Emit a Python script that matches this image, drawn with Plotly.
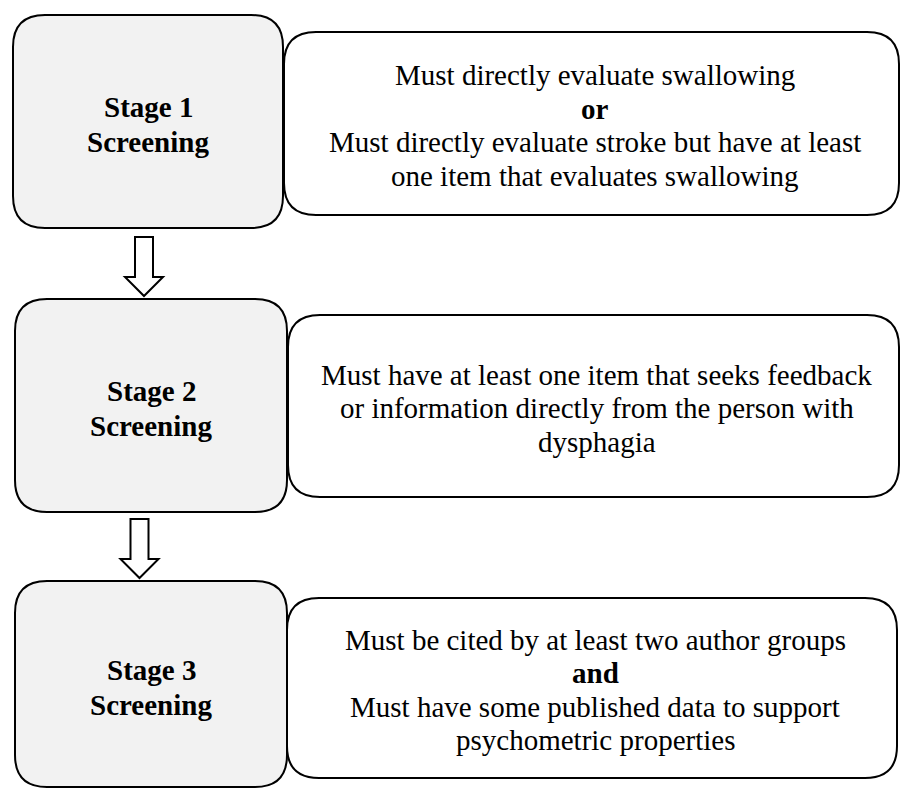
import plotly.graph_objects as go

W, H = 901, 789

# text content
stage_names = ["Stage 1", "Stage 2", "Stage 3"]
stage_sub = "Screening"
criteria = [
    ["Must directly evaluate swallowing",
     "<b>or</b>",
     "Must directly evaluate stroke but have at least",
     "one item that evaluates swallowing"],
    ["Must have at least one item that seeks feedback",
     "or information directly from the person with",
     "dysphagia"],
    ["Must be cited by at least two author groups",
     "<b>and</b>",
     "Must have some published data to support",
     "psychometric properties"],
]

# geometry (pixel space, y grows downward)
stage_boxes = [(13, 15, 283, 228), (15, 299, 287, 512), (15, 581, 287, 787)]
crit_boxes = [(284, 32, 899, 215), (288, 315, 899, 497), (287, 598, 897, 778)]
arrows = [(144, 237, 296), (139.5, 519, 578)]

SERIF = '"Times New Roman", "Liberation Serif", "DejaVu Serif", serif'
GREY = "#f2f2f2"


def rounded_rect(x0, y0, x1, y1, r=32):
    return (f"M {x0+r},{y0} L {x1-r},{y0} Q {x1},{y0} {x1},{y0+r} "
            f"L {x1},{y1-r} Q {x1},{y1} {x1-r},{y1} L {x0+r},{y1} "
            f"Q {x0},{y1} {x0},{y1-r} L {x0},{y0+r} Q {x0},{y0} {x0+r},{y0} Z")


def block_arrow(cx, top, tip, shaft=9, head=19, head_len=19):
    hy = tip - head_len
    return (f"M {cx-shaft},{top} L {cx+shaft},{top} L {cx+shaft},{hy} "
            f"L {cx+head},{hy} L {cx},{tip} L {cx-head},{hy} L {cx-shaft},{hy} Z")


fig = go.Figure()
shapes = []
annotations = []

for i, (x0, y0, x1, y1) in enumerate(stage_boxes):
    shapes.append(dict(type="path", path=rounded_rect(x0, y0, x1, y1),
                       fillcolor=GREY, line=dict(color="black", width=2)))
    cy = (y0 + y1) / 2 + 3
    for j, txt in enumerate([stage_names[i], stage_sub]):
        annotations.append(dict(x=(x0 + x1) / 2, y=cy + (j - 0.5) * 35,
                                text=f"<b>{txt}</b>", showarrow=False,
                                xanchor="center", yanchor="middle",
                                font=dict(family=SERIF, size=29, color="black")))

for i, (x0, y0, x1, y1) in enumerate(crit_boxes):
    shapes.append(dict(type="path", path=rounded_rect(x0, y0, x1, y1),
                       fillcolor="white", line=dict(color="black", width=2)))
    lines = criteria[i]
    cy = (y0 + y1) / 2 + 2
    n = len(lines)
    for j, txt in enumerate(lines):
        annotations.append(dict(x=(x0 + x1) / 2 + 3, y=cy + (j - (n - 1) / 2) * 33.5,
                                text=txt, showarrow=False,
                                xanchor="center", yanchor="middle",
                                font=dict(family=SERIF, size=29, color="black")))

for cx, top, tip in arrows:
    shapes.append(dict(type="path", path=block_arrow(cx, top, tip),
                       fillcolor="white", line=dict(color="black", width=2)))

fig.update_layout(
    width=W, height=H,
    margin=dict(l=0, r=0, t=0, b=0),
    paper_bgcolor="white", plot_bgcolor="white",
    xaxis=dict(range=[0, W], visible=False, fixedrange=True),
    yaxis=dict(range=[H, 0], visible=False, fixedrange=True),
    shapes=shapes, annotations=annotations,
    showlegend=False,
)

fig.write_html("out.html", config={"displayModeBar": False},
               post_script="document.body.style.margin='0';")
